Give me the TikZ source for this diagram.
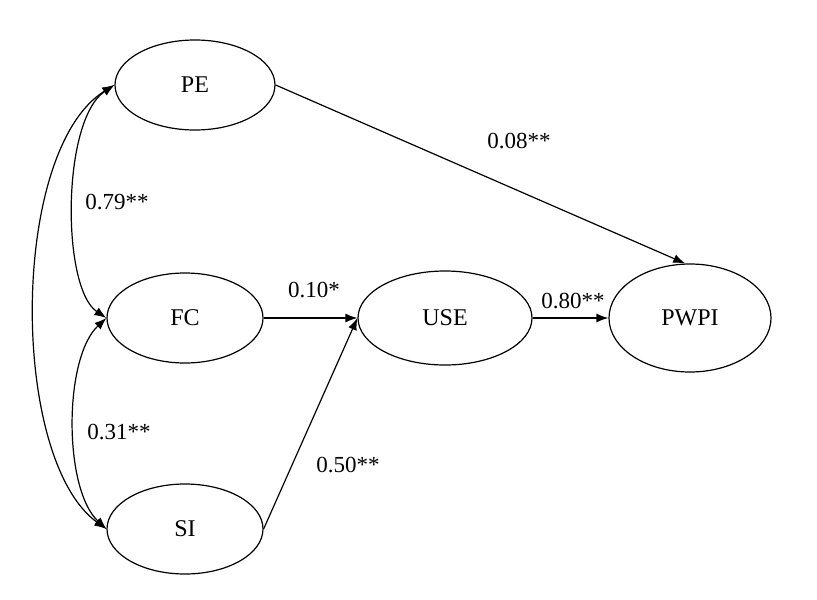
\documentclass[tikz,border=0pt]{standalone}
\usepackage{fontspec}
\setmainfont{Liberation Serif}
\usetikzlibrary{arrows.meta,shapes.geometric}

\begin{document}
\begin{tikzpicture}[x=0.5pt,y=-0.5pt,line width=0.6pt,
    construct/.style={draw,ellipse,inner sep=0pt,font=\fontsize{12}{14}\selectfont},
    coef/.style={font=\fontsize{11.5}{13}\selectfont},
    path/.style={-{Latex[length=6pt,width=4.5pt]}},
    cov/.style={{Latex[length=6pt,width=4.5pt]}-{Latex[length=6pt,width=4.5pt]}}]
            \useasboundingbox (0,0) rectangle (817,599);
            % constructs
            \node[construct,minimum width=80pt,minimum height=45pt] (pe) at (195,85) {PE};
            \node[construct,minimum width=78pt,minimum height=45pt] (fc) at (185,318) {FC};
            \node[construct,minimum width=78pt,minimum height=45pt] (si) at (185,529) {SI};
            \node[construct,minimum width=87pt,minimum height=47pt] (use) at (445,318) {USE};
            \node[construct,minimum width=81pt,minimum height=54pt] (pwpi) at (690,318) {PWPI};
            % paths
            \draw[path] (pe.east) -- (pwpi.95);
            \draw[path] (fc.east) -- (use.west);
            \draw[path] (si.east) -- (use.west);
            \draw[path] (use.east) -- (pwpi.west);
            % correlations
            \draw[cov] (pe.west) .. controls +(-53,35) and +(-45,-30) .. (fc.west);
            \draw[cov] (fc.west) .. controls +(-43,40) and +(-43,-40) .. (si.west);
            \draw[cov] (pe.west) .. controls +(-105,65) and +(-97,-70) .. (si.west);
            % coefficients
            \node[coef] (c1) at (117,202) {0.79**};
            \node[coef] (c2) at (119,432) {0.31**};
            \node[coef] (c3) at (519,141) {0.08**};
            \node[coef] (c4) at (314,290) {0.10*};
            \node[coef] (c5) at (573,301) {0.80**};
            \node[coef] (c6) at (348,465) {0.50**};
        \end{tikzpicture}
\end{document}
